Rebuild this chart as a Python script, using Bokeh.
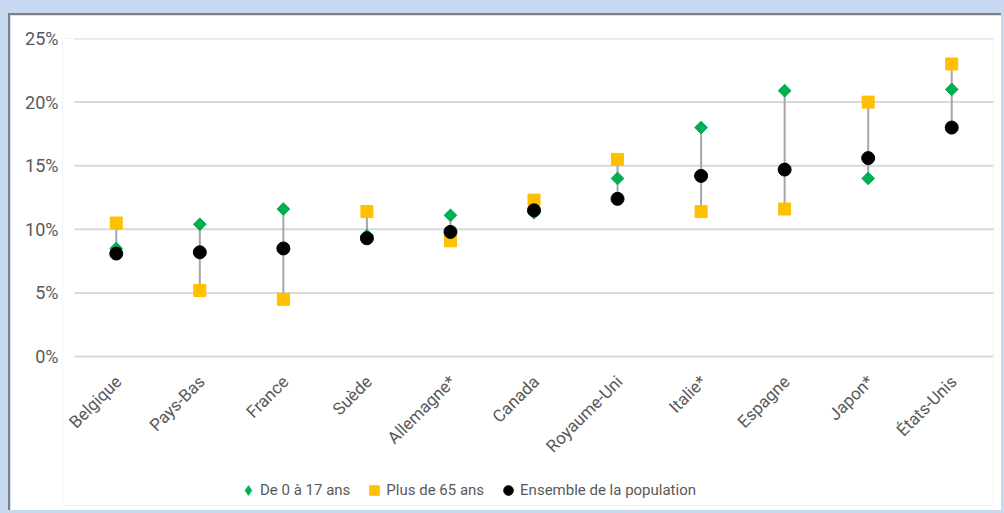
from bokeh.plotting import figure
from bokeh.models import Range1d, Legend, LegendItem, PrintfTickFormatter, FixedTicker, ColumnDataSource
from bokeh.core.properties import value
from bokeh.embed import file_html
from bokeh.resources import INLINE
import numpy as np

countries = ["Belgique", "Pays-Bas", "France", "Suède", "Allemagne*", "Canada",
             "Royaume-Uni", "Italie*", "Espagne", "Japon*", "États-Unis"]
enfants = [8.5, 10.4, 11.6, 9.5, 11.1, 11.3, 14.0, 18.0, 20.9, 14.0, 21.0]
seniors = [10.5, 5.2, 4.5, 11.4, 9.1, 12.3, 15.5, 11.4, 11.6, 20.0, 23.0]
ensemble = [8.1, 8.2, 8.5, 9.3, 9.8, 11.5, 12.4, 14.2, 14.7, 15.6, 18.0]
y_ticks = [0, 5, 10, 15, 20, 25]

label_names = ["De 0 à 17 ans", "Plus de 65 ans", "Ensemble de la population"]

GREEN = "#00b050"
YELLOW = "#ffc000"
GREY_TXT = "#595959"
GRID = "#d9d9d9"
FONT = "Roboto"

# layout (pixels)
W, H = 993, 497
B_LEFT, B_RIGHT, B_TOP, B_BOTTOM = 52, 10, 23, 7
LEFT_PAD_PX = 12                      # room left of the grid for the first rotated label
FRAME_W = W - B_LEFT - B_RIGHT
FRAME_H = H - B_TOP - B_BOTTOM
n = len(countries)
PX_PER_CAT = (FRAME_W - LEFT_PAD_PX) / n
X_START = -0.5 - LEFT_PAD_PX / PX_PER_CAT
X_END = n - 0.5
Y_END = 25.0
Y_START = -11.7                        # room under the 0% line for labels and legend
PX_PER_UNIT = FRAME_H / (Y_END - Y_START)
LABEL_DROP_PX = 22

xs = list(range(n))
lows = [min(a, b, c) for a, b, c in zip(enfants, seniors, ensemble)]
highs = [max(a, b, c) for a, b, c in zip(enfants, seniors, ensemble)]

src = ColumnDataSource(dict(x=xs, name=countries, e=enfants, s=seniors, t=ensemble,
                            lo=lows, hi=highs,
                            ly=[-LABEL_DROP_PX / PX_PER_UNIT] * n))
grid_src = ColumnDataSource(dict(x0=[-0.5] * len(y_ticks), x1=[n - 0.5] * len(y_ticks),
                                 y=y_ticks))

p = figure(x_range=Range1d(X_START, X_END), y_range=Range1d(Y_START, Y_END),
           width=W, height=H, output_backend="svg", toolbar_location=None,
           min_border_left=B_LEFT, min_border_right=B_RIGHT, min_border_top=B_TOP,
           min_border_bottom=B_BOTTOM)
p.margin = (13, 0, 0, 8)
p.styles = {"border-top": "2px solid #7f7f7f", "border-left": "2px solid #7f7f7f"}
p.background_fill_color = "white"
p.border_fill_color = "white"
p.outline_line_color = None
p.xgrid.grid_line_color = None
p.ygrid.grid_line_color = None
p.xaxis.visible = False

# horizontal gridlines across the category span
p.segment(x0="x0", y0="y", x1="x1", y1="y", source=grid_src, line_color=GRID, line_width=2)

# high-low lines and markers
p.segment(x0="x", y0="lo", x1="x", y1="hi", source=src, line_color="#a6a6a6", line_width=2)
p.scatter(x="x", y="e", source=src, marker="square", angle=np.pi / 4, size=9,
          fill_color=GREEN, line_color=GREEN)
r_s = p.scatter(x="x", y="s", source=src, marker="square", size=12,
                fill_color=YELLOW, line_color=YELLOW)
r_t = p.scatter(x="x", y="t", source=src, marker="circle", size=13,
                fill_color="black", line_color="black")
# legend swatch for the diamond series (hidden in the plot, shown in the legend)
r_e_leg = p.scatter(x="x", y="e", source=src, marker="diamond", size=15,
                    fill_color=GREEN, line_color=GREEN, visible=False)

# category labels, rotated, under the 0% line
p.text(x="x", y="ly", text="name", source=src, angle=np.pi / 4, text_align="right",
       text_baseline="middle", x_offset=2, text_font=value(FONT), text_font_size="17px",
       text_color=GREY_TXT)

ya = p.yaxis[0]
ya.ticker = FixedTicker(ticks=y_ticks)
ya.formatter = PrintfTickFormatter(format="%d%%")
ya.axis_line_color = None
ya.major_tick_line_color = None
ya.minor_tick_line_color = None
ya.major_tick_out = 0
ya.major_tick_in = 0
ya.major_label_text_color = GREY_TXT
ya.major_label_text_font = FONT
ya.major_label_text_font_size = "18px"
ya.major_label_standoff = 4

legend = Legend(items=[LegendItem(label=label_names[0], renderers=[r_e_leg]),
                       LegendItem(label=label_names[1], renderers=[r_s]),
                       LegendItem(label=label_names[2], renderers=[r_t])],
                location=(236 - (B_LEFT + 10), 3), orientation="horizontal",
                glyph_width=24, glyph_height=24, label_standoff=0, spacing=12,
                padding=0, margin=0, border_line_color=None, background_fill_alpha=0,
                label_text_font=FONT, label_text_font_size="15px", label_text_color=GREY_TXT,
                label_height=18, click_policy="none")
p.add_layout(legend, "center")

html = file_html(p, INLINE)
html = html.replace("</head>", "<style>html, body { background-color: #c6d9f0 !important; }</style></head>", 1)
open("out.html", "w").write(html)
